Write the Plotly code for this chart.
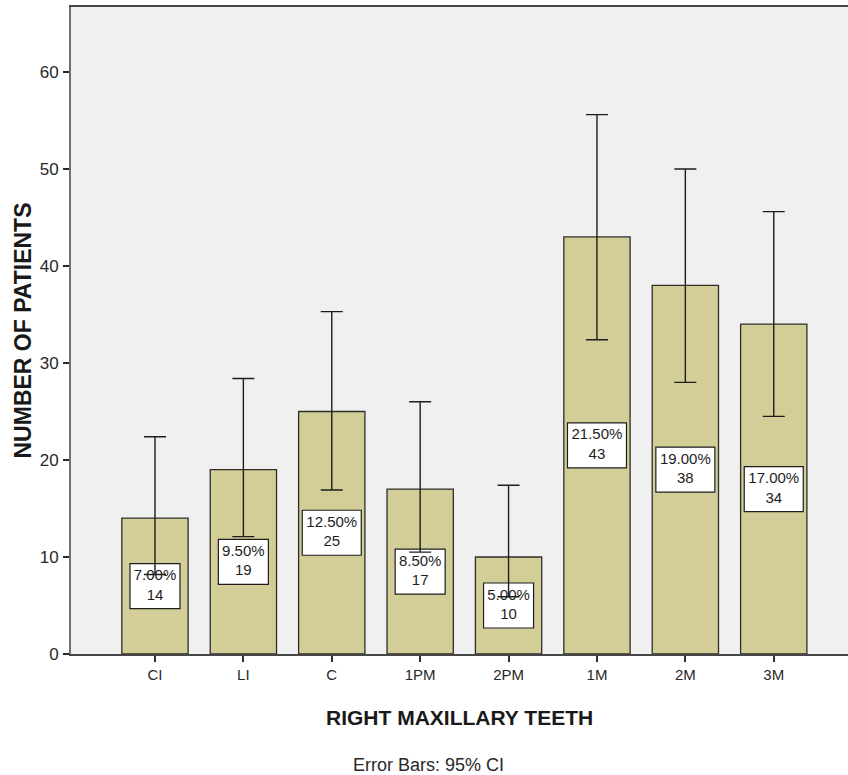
import plotly.graph_objects as go

categories = ["CI", "LI", "C", "1PM", "2PM", "1M", "2M", "3M"]
counts = [14, 19, 25, 17, 10, 43, 38, 34]
percents = ["7.00%", "9.50%", "12.50%", "8.50%", "5.00%", "21.50%", "19.00%", "17.00%"]
ci_upper = [22.4, 28.4, 35.3, 26.0, 17.4, 55.6, 50.0, 45.6]
ci_lower = [8.2, 12.1, 16.9, 10.5, 5.9, 32.4, 28.0, 24.5]
y_ticks = [0, 10, 20, 30, 40, 50, 60]

FONT = "Liberation Sans, Arial, Helvetica, sans-serif"
BAR_FILL = "rgb(211,206,152)"
BG = "rgb(240,240,240)"

W, H = 848, 775
ML, MR, MT, MB = 71, 0, 7, 121
x_range = [-0.95, 7.84]
y_range = [0, 66.7]
PW = W - ML - MR
PH = H - MT - MB
px_per_cat = PW / (x_range[1] - x_range[0])
px_per_unit = PH / (y_range[1] - y_range[0])

box_h = 45 / px_per_unit
box_w = [(9 * len(p) + 5) / px_per_cat for p in percents]
box_base = [c / 2 - box_h / 2 for c in counts]
labels = [f"{p}<br>{c}" for p, c in zip(percents, counts)]

fig = go.Figure()

fig.add_trace(go.Bar(
    x=categories, y=counts, width=0.75,
    marker=dict(color=BAR_FILL, line=dict(color="rgb(45,45,40)", width=1.3)),
    hoverinfo="skip", showlegend=False,
))

fig.add_trace(go.Bar(
    x=categories, y=[box_h] * len(counts), base=box_base, width=box_w,
    marker=dict(color="white", line=dict(color="rgb(30,30,30)", width=1.2)),
    hoverinfo="skip", showlegend=False,
))

fig.add_trace(go.Scatter(
    x=categories, y=[c / 2 for c in counts], mode="text", text=labels,
    textposition="middle center",
    textfont=dict(family=FONT, size=15, color="rgb(30,30,30)"),
    hoverinfo="skip", showlegend=False,
))

fig.add_trace(go.Scatter(
    x=categories, y=counts, mode="markers",
    marker=dict(size=1, opacity=0),
    error_y=dict(
        type="data", symmetric=False,
        array=[u - c for u, c in zip(ci_upper, counts)],
        arrayminus=[c - l for c, l in zip(counts, ci_lower)],
        color="rgb(30,30,25)", thickness=1.4, width=11,
    ),
    hoverinfo="skip", showlegend=False,
))

fig.update_layout(
    width=W, height=H,
    margin=dict(l=ML, r=MR, t=MT, b=MB),
    paper_bgcolor="white", plot_bgcolor=BG,
    barmode="overlay",
    font=dict(family=FONT, color="rgb(40,40,40)"),
    xaxis=dict(
        type="category", range=x_range,
        showline=True, linecolor="rgb(70,70,70)", linewidth=1.5, mirror=True,
        ticks="outside", ticklen=6, tickwidth=1.5, tickcolor="rgb(50,50,50)",
        tickfont=dict(size=15, family=FONT, color="rgb(40,40,40)"),
        showgrid=False, zeroline=False,
    ),
    yaxis=dict(
        range=y_range, tickvals=y_ticks, ticktext=[str(v) for v in y_ticks],
        showline=True, linecolor="rgb(110,110,110)", linewidth=2,
        ticks="outside", ticklen=6, tickwidth=2, tickcolor="rgb(40,40,40)",
        tickfont=dict(size=17, family=FONT, color="rgb(40,40,40)"),
        showgrid=False, zeroline=False, ticklabelstandoff=1,
    ),
    annotations=[
        dict(text="<b>NUMBER OF PATIENTS</b>", xref="paper", yref="paper",
             x=(22 - ML) / PW, y=0.5,
             xanchor="center", yanchor="middle", textangle=-90, showarrow=False,
             font=dict(size=23, family=FONT, color="rgb(25,25,25)")),
        dict(text="<b>RIGHT MAXILLARY TEETH</b>", xref="paper", yref="paper",
             x=0.5, y=-(718 - (H - MB)) / PH, xanchor="center", yanchor="middle",
             showarrow=False, font=dict(size=21, family=FONT, color="rgb(25,25,25)")),
        dict(text="Error Bars: 95% CI", xref="paper", yref="paper",
             x=(428 - ML) / PW, y=-(765 - (H - MB)) / PH,
             xanchor="center", yanchor="middle", showarrow=False,
             font=dict(size=18, family=FONT, color="rgb(40,40,40)")),
    ],
)

fig.write_html("out.html", config={"displayModeBar": False},
               post_script="document.body.style.margin='0';")
